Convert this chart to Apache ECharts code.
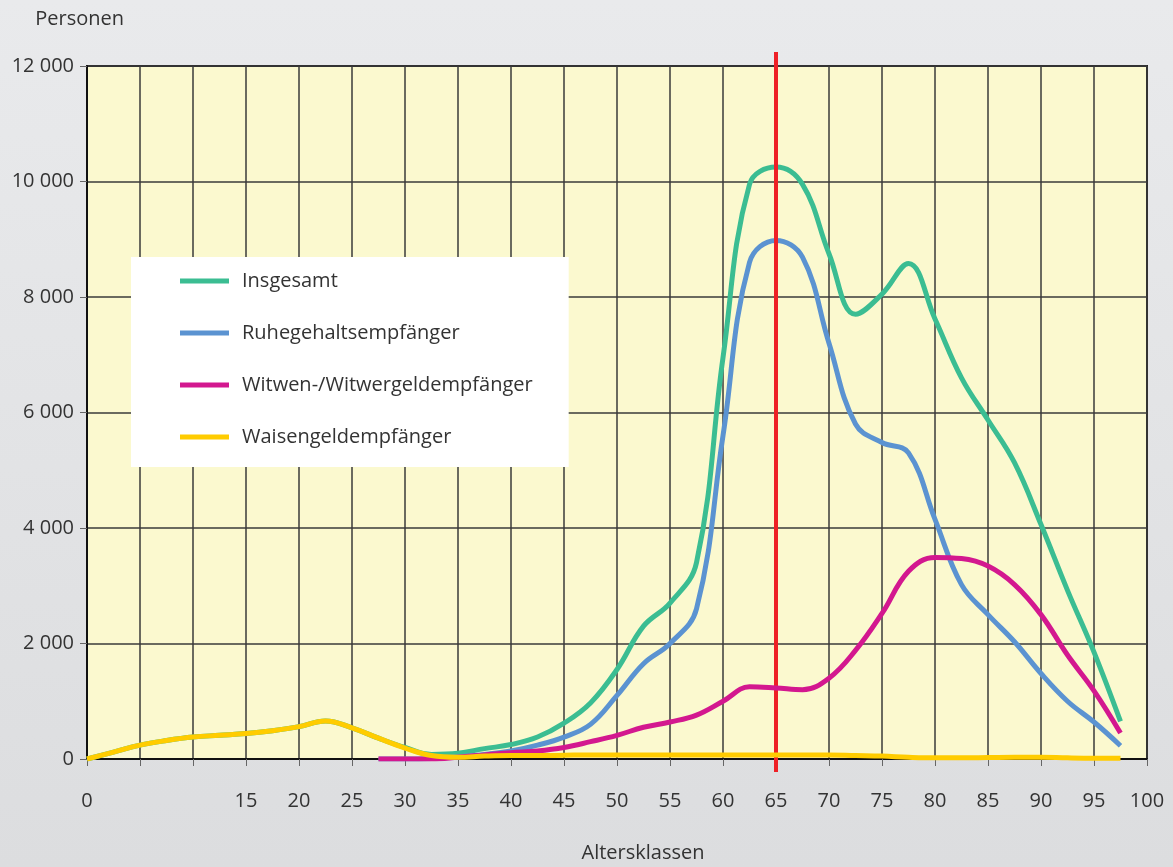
<!DOCTYPE html>
<html>
<head>
<meta charset="utf-8">
<script src="https://cdn.jsdelivr.net/npm/echarts@6/dist/echarts.min.js"></script>
<style>
  html, body { margin: 0; padding: 0; }
  #chart { width: 1173px; height: 867px; }
</style>
</head>
<body>
<div id="chart"></div>
<script>
var chartDom = document.getElementById('chart');
var myChart = echarts.init(chartDom);

// Altersklassen (Schritte von 2,5 Jahren)
var ages = [0, 2.5, 5, 7.5, 10, 12.5, 15, 17.5, 20, 22.5, 25, 27.5, 30, 32.5, 35, 37.5, 40, 42.5, 45, 47.5,
            50, 52.5, 55, 57.5, 60, 62.5, 65, 67.5, 70, 72.5, 75, 77.5, 80, 82.5, 85, 87.5, 90, 92.5, 95, 97.5];
var insgesamt = [0, 120, 240, 320, 380, 410, 440, 490, 560, 660, 540, 360, 200, 80, 100, 180, 250, 380, 620, 970,
                 1550, 2300, 2700, 3400, 6950, 9950, 10250, 9950, 8750, 7700, 8050, 8580, 7620, 6600, 5870, 5130, 4060, 2920, 1850, 650];
var ruhegehalt = [null, null, null, null, null, null, null, null, null, null, null, 0, 0, 10, 40, 80, 140, 240, 380, 600,
                  1100, 1650, 2000, 2600, 5600, 8600, 8980, 8690, 7200, 5800, 5480, 5300, 4150, 3020, 2500, 2030, 1480, 1000, 640, 230];
var witwen = [null, null, null, null, null, null, null, null, null, null, null, 0, 0, 0, 30, 70, 110, 140, 200, 300,
              410, 550, 640, 760, 1000, 1250, 1230, 1200, 1400, 1880, 2520, 3250, 3490, 3470, 3340, 3020, 2500, 1800, 1180, 450];
var waisen = [0, 120, 240, 320, 380, 410, 440, 490, 560, 660, 540, 360, 190, 60, 30, 50, 60, 60, 65, 70,
              70, 70, 70, 70, 70, 70, 70, 70, 70, 60, 50, 30, 20, 20, 25, 30, 30, 20, 15, 15];

var seriesNames = ['Insgesamt', 'Ruhegehaltsempfänger', 'Witwen-/Witwergeldempfänger', 'Waisengeldempfänger'];
var seriesColors = ['#3bbd92', '#5b93d1', '#d3188f', '#ffcc00'];
var hiddenXLabels = [5, 10];
var pensionAge = 65;

function pairs(values) {
    var out = [];
    for (var i = 0; i < ages.length; i++) {
        if (values[i] !== null) out.push([ages[i], values[i]]);
    }
    return out;
}

var font = 'Open Sans';
var allValues = [insgesamt, ruhegehalt, witwen, waisen];

var series = allValues.map(function (vals, i) {
    return {
        name: seriesNames[i],
        type: 'line',
        data: pairs(vals),
        smooth: 0.4,
        symbol: 'none',
        lineStyle: { width: 5, color: seriesColors[i] },
        itemStyle: { color: seriesColors[i] },
        z: 3 + i
    };
});

// rote Linie bei 65 Jahren (eigenes Koordinatensystem, ragt über die Zeichenfläche hinaus)
series.push({
    type: 'line',
    xAxisIndex: 1,
    yAxisIndex: 1,
    data: [],
    z: 20,
    markLine: {
        silent: true,
        symbol: 'none',
        label: { show: false },
        lineStyle: { color: '#ee2026', width: 4, type: 'solid' },
        data: [{ xAxis: pensionAge }]
    }
});

var option = {
    backgroundColor: {
        type: 'linear', x: 0, y: 0, x2: 0, y2: 1,
        colorStops: [
            { offset: 0, color: '#e9eaec' },
            { offset: 1, color: '#dcdddf' }
        ]
    },
    textStyle: { fontFamily: font },
    grid: [{
        left: 87, right: 26, top: 66, bottom: 108,
        outerBoundsMode: 'none',
        containLabel: false,
        show: true,
        backgroundColor: '#fbf9cf',
        borderColor: '#222',
        borderWidth: 2
    }, {
        left: 87, right: 26, top: 52, bottom: 95,
        outerBoundsMode: 'none',
        containLabel: false,
        show: false
    }],
    legend: {
        orient: 'vertical',
        left: 131,
        top: 257,
        backgroundColor: '#fff',
        padding: [14, 36, 20, 49],
        itemGap: 32,
        itemWidth: 49,
        itemHeight: 5,
        icon: 'rect',
        data: seriesNames,
        textStyle: { fontSize: 20, color: '#333', fontFamily: font, padding: [0, 0, 0, 8] }
    },
    xAxis: [{
        type: 'value',
        min: 0,
        max: 100,
        interval: 5,
        name: 'Altersklassen',
        nameLocation: 'middle',
        nameGap: 84,
        nameTextStyle: { fontSize: 20, color: '#333', padding: [0, 0, 0, 52] },
        axisLine: { show: true, lineStyle: { color: '#111', width: 2 } },
        axisTick: { show: true, length: 7, lineStyle: { color: '#666' } },
        axisLabel: {
            margin: 32,
            fontSize: 20,
            color: '#333',
            formatter: function (v) {
                return hiddenXLabels.indexOf(v) >= 0 ? '' : String(v);
            }
        },
        splitLine: { show: true, lineStyle: { color: '#3a3a3a', width: 1.5 } }
    }, {
        type: 'value', gridIndex: 1, min: 0, max: 100, show: false
    }],
    yAxis: [{
        type: 'value',
        min: 0,
        max: 12000,
        interval: 2000,
        name: 'Personen',
        nameLocation: 'end',
        nameGap: 37,
        nameTextStyle: { fontSize: 20, color: '#333', align: 'right', padding: [0, -37, 0, 0] },
        axisLine: { show: true, lineStyle: { color: '#111', width: 2 } },
        axisTick: { show: true, length: 7, lineStyle: { color: '#666' } },
        axisLabel: {
            margin: 13,
            fontSize: 20,
            color: '#333',
            formatter: function (v) {
                return String(v).replace(/\B(?=(\d{3})+(?!\d))/g, ' ');
            }
        },
        splitLine: { show: true, lineStyle: { color: '#3a3a3a', width: 1.5 } }
    }, {
        type: 'value', gridIndex: 1, min: 0, max: 1, show: false
    }],
    series: series
};

myChart.setOption(option);
window.addEventListener('resize', function () {
    myChart.resize();
});
</script>
</body>
</html>
